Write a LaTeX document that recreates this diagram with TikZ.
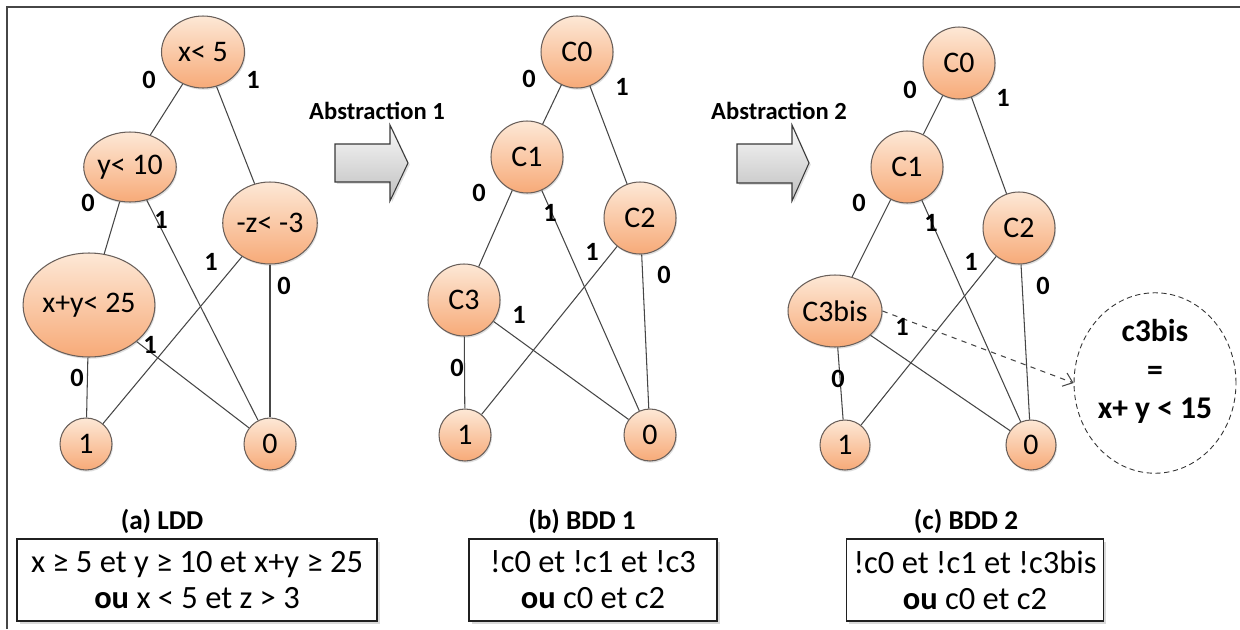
\documentclass[tikz,border=0pt]{standalone}
\usepackage{fontspec}
\setmainfont{Carlito}
\usetikzlibrary{shapes.geometric,shadows,arrows.meta}
\definecolor{nodetop}{RGB}{253,232,214}
\definecolor{nodebot}{RGB}{247,170,120}
\definecolor{nodeline}{RGB}{105,95,90}
\definecolor{linkcol}{RGB}{70,70,70}

\begin{document}
\begin{tikzpicture}[x=0.02cm,y=-0.02cm,
        vnode/.style={ellipse,draw=nodeline,line width=0.6pt,top color=nodetop,bottom color=nodebot,
            inner sep=0pt,font=\fontsize{17}{20}\selectfont,
            drop shadow={opacity=0.25,shadow xshift=0.6pt,shadow yshift=-1pt}},
        leaf/.style={vnode,circle,minimum size=1.04cm},
        cnode/.style={vnode,circle,minimum size=1.44cm},
        link/.style={draw=linkcol,line width=0.6pt},
        lbl/.style={font=\bfseries\fontsize{15}{17}\selectfont,inner sep=0pt},
        title/.style={font=\bfseries\fontsize{15.5}{18}\selectfont,inner sep=0pt},
        abslbl/.style={font=\bfseries\fontsize{14}{16}\selectfont,inner sep=0pt},
        txtbox/.style={draw=gray!25!black,line width=0.8pt,fill=white,align=center,inner sep=0pt,
            minimum height=1.64cm,font=\fontsize{18.5}{20.5}\selectfont,
            drop shadow={opacity=0.3,shadow xshift=1.5pt,shadow yshift=-1.5pt}},
        blockarr/.style={draw=gray!45!black,line width=0.6pt,top color=gray!5,bottom color=gray!50,
            drop shadow={opacity=0.25,shadow xshift=1pt,shadow yshift=-1pt}}]

    \useasboundingbox (0,0) rectangle (1240,629);
    \draw[gray!55!black,line width=1pt] (7,629) -- (7,7) -- (1240,7);

    % (a) LDD
    \node[vnode,minimum width=1.66cm,minimum height=1.44cm] (lx5) at (203,52) {x< 5};
    \node[vnode,minimum width=1.70cm,minimum height=1.40cm] (ly10) at (130,167) {y< 10};
    \node[vnode,minimum width=1.88cm,minimum height=1.64cm] (lz3) at (270,223) {-z< -3};
    \node[vnode,minimum width=2.50cm,minimum height=2.08cm] (lxy25) at (89,305) {x+y< 25};
    \node[leaf] (lone) at (86,444) {1};
    \node[leaf] (lzero) at (270,444) {0};

    \path (lx5) edge[link] (ly10);
    \path (lx5) edge[link] (lz3);
    \path (ly10) edge[link] (lxy25);
    \path (ly10) edge[link] (lzero);
    \path (lz3) edge[link] (lone);
    \path (lz3) edge[link] (lzero);
    \path (lxy25) edge[link] (lone);
    \path (lxy25) edge[link] (lzero);

    \node[lbl] at (149,80) {0};
    \node[lbl] at (253,80) {1};
    \node[lbl] at (88,203) {0};
    \node[lbl] at (161,220) {1};
    \node[lbl] at (211,262) {1};
    \node[lbl] at (284,286) {0};
    \node[lbl] at (150,345) {1};
    \node[lbl] at (77,378) {0};

    % (b) BDD 1
    \node[cnode] (bc0) at (577,52) {C0};
    \node[cnode] (bc1) at (527,157) {C1};
    \node[cnode] (bc2) at (640,218) {C2};
    \node[cnode] (bc3) at (464,300) {C3};
    \node[leaf] (bone) at (465,435) {1};
    \node[leaf] (bzero) at (650,435) {0};

    \path (bc0) edge[link] (bc1);
    \path (bc0) edge[link] (bc2);
    \path (bc1) edge[link] (bc3);
    \path (bc1) edge[link] (bzero);
    \path (bc2) edge[link] (bone);
    \path (bc2) edge[link] (bzero);
    \path (bc3) edge[link] (bone);
    \path (bc3) edge[link] (bzero);

    \node[lbl] at (529,79) {0};
    \node[lbl] at (622,87) {1};
    \node[lbl] at (479,193) {0};
    \node[lbl] at (550,213) {1};
    \node[lbl] at (592,252) {1};
    \node[lbl] at (664,275) {0};
    \node[lbl] at (519,315) {1};
    \node[lbl] at (457,368) {0};

    % (c) BDD 2
    \node[cnode] (dc0) at (959,63) {C0};
    \node[cnode] (dc1) at (907,167) {C1};
    \node[cnode] (dc2) at (1019,228) {C2};
    \node[vnode,minimum width=1.88cm,minimum height=1.44cm] (dc3bis) at (835,311) {C3bis};
    \node[leaf,minimum size=1.0cm] (done) at (845,445) {1};
    \node[leaf,minimum size=1.0cm] (dzero) at (1031,445) {0};
    \node[ellipse,draw=gray!40!black,densely dashed,line width=0.5pt,fill=white,
        minimum width=3.08cm,minimum height=2.66cm,inner sep=0pt,align=center,text depth=16pt,
        font=\bfseries\fontsize{18}{22}\selectfont] (dinfo) at (1155,383) {c3bis\\=\\x+ y < 15};

    \path (dc0) edge[link] (dc1);
    \path (dc0) edge[link] (dc2);
    \path (dc1) edge[link] (dc3bis);
    \path (dc1) edge[link] (dzero);
    \path (dc2) edge[link] (done);
    \path (dc2) edge[link] (dzero);
    \path (dc3bis) edge[link] (done);
    \path (dc3bis) edge[link] (dzero);
    \draw[link,dashed,-{Straight Barb[length=5pt,width=8pt]}] (dc3bis.east) -- (dinfo.west);

    \node[lbl] at (910,90) {0};
    \node[lbl] at (1003,98) {1};
    \node[lbl] at (859,203) {0};
    \node[lbl] at (931,223) {1};
    \node[lbl] at (971,262) {1};
    \node[lbl] at (1043,286) {0};
    \node[lbl] at (902,327) {1};
    \node[lbl] at (838,379) {0};

    % abstraction arrows
    \draw[blockarr] (335,144) -- (390,144) -- (390,125) -- (408,163) -- (390,201) -- (390,182) -- (335,182) -- cycle;
    \draw[blockarr] (737,144) -- (792,144) -- (792,125) -- (809,163) -- (792,201) -- (792,183) -- (737,183) -- cycle;
    \node[abslbl] (abs1) at (377,111) {Abstraction 1};
    \node[abslbl] (abs2) at (779,111) {Abstraction 2};

    % captions and formulas
    \node[title] (tla) at (162,521) {(a) LDD};
    \node[title] (tlb) at (582,521) {(b) BDD 1};
    \node[title] (tlc) at (966,521) {(c) BDD 2};
    \node[txtbox,minimum width=7.2cm] (fa) at (197,580) {x ≥ 5 et y ≥ 10 et x+y ≥ 25\\{\bfseries ou} x < 5 et z > 3};
    \node[txtbox,minimum width=4.96cm] (fb) at (593,580) {!c0 et !c1 et !c3\\{\bfseries ou} c0 et c2};
    \node[txtbox,minimum width=5.14cm] (fc) at (975,580) {!c0 et !c1 et !c3bis\\{\bfseries ou} c0 et c2};
\end{tikzpicture}
\end{document}
